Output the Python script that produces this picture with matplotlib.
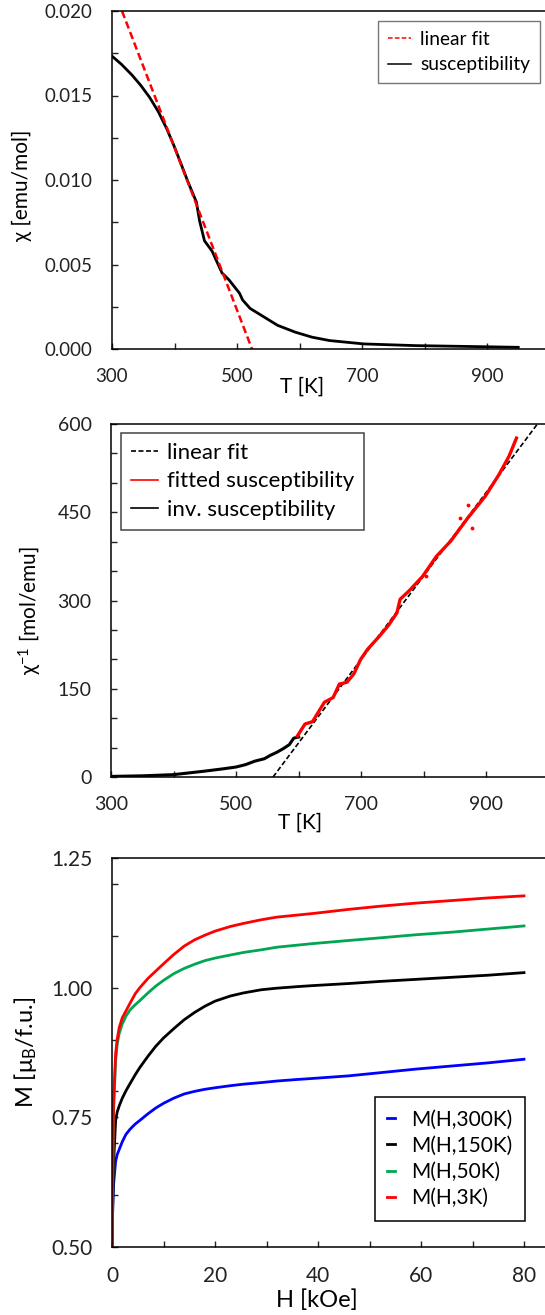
import matplotlib
matplotlib.use("Agg")
import matplotlib.pyplot as plt
from matplotlib.ticker import MultipleLocator, FixedLocator

plt.rcParams['font.family'] = ['Lato', 'DejaVu Sans']
plt.rcParams['mathtext.default'] = 'regular'

# panel 1: susceptibility vs T
T_chi = [300, 315, 332, 346, 360, 374, 388, 400, 410, 422, 435, 440, 448, 460,
         476, 487, 504, 509, 521, 543, 565, 593, 620, 648, 703, 786, 870, 950]
chi = [0.01733, 0.01685, 0.01621, 0.01560, 0.01490, 0.01405, 0.01300, 0.01195,
       0.01100, 0.00985, 0.00870, 0.00760, 0.00640, 0.00580, 0.00450, 0.00410,
       0.00330, 0.00290, 0.00240, 0.00190, 0.00140, 0.00100, 0.00070, 0.00050,
       0.00030, 0.00020, 0.00015, 0.00010]
fit1_T = [316, 524]
fit1_chi = [0.020, 0.0]

# panel 2: inverse susceptibility
inv_T = [300, 350, 400, 450, 480, 500, 515, 530, 545, 555, 565, 575, 585, 592, 600]
inv_chi = [1, 2, 4, 10, 14, 17, 21, 27, 31, 37, 42, 48, 55, 66, 68]
fitted_T = [598, 610, 622, 641, 655, 665, 677, 688, 699, 710, 727, 743, 757, 762,
            776, 798, 820, 843, 870, 898, 920, 936, 948]
fitted_chi = [70, 90, 94, 127, 135, 158, 161, 175, 200, 217, 237, 257, 279, 302,
              316, 341, 375, 401, 440, 477, 514, 545, 576]
outlier_T = [804, 858, 870, 877]
outlier_chi = [341, 440, 463, 424]
fit2_T = [559, 985]
fit2_chi = [0, 605]

# panel 3: M(H)
H = [0, 0.15, 0.3, 0.7, 1.0, 1.4, 2.0, 2.7, 3.5, 4.5, 5.4, 7, 8.5, 10, 12, 14, 16,
     18, 20, 23, 25.6, 29, 32, 36, 39, 46, 52, 59, 66, 73, 80]
M_3K = [0.50, 0.65, 0.78, 0.872, 0.900, 0.923, 0.942, 0.955, 0.970, 0.988, 1.000,
        1.018, 1.032, 1.046, 1.064, 1.080, 1.092, 1.101, 1.109, 1.118, 1.124, 1.131,
        1.136, 1.140, 1.143, 1.151, 1.157, 1.163, 1.168, 1.173, 1.177]
M_50K = [0.50, 0.63, 0.76, 0.859, 0.890, 0.912, 0.930, 0.945, 0.957, 0.967, 0.975,
         0.990, 1.003, 1.014, 1.027, 1.037, 1.045, 1.052, 1.057, 1.063, 1.068, 1.073,
         1.078, 1.082, 1.085, 1.091, 1.096, 1.102, 1.107, 1.113, 1.119]
M_150K = [0.50, 0.58, 0.66, 0.743, 0.760, 0.772, 0.787, 0.801, 0.815, 0.832, 0.846,
          0.868, 0.887, 0.903, 0.921, 0.938, 0.952, 0.964, 0.974, 0.984, 0.990, 0.996,
          0.999, 1.002, 1.004, 1.008, 1.012, 1.016, 1.020, 1.024, 1.029]
M_300K = [0.50, 0.58, 0.62, 0.665, 0.678, 0.688, 0.703, 0.717, 0.727, 0.737, 0.744,
          0.757, 0.768, 0.777, 0.787, 0.795, 0.800, 0.804, 0.807, 0.811, 0.814, 0.817,
          0.820, 0.823, 0.825, 0.830, 0.836, 0.843, 0.849, 0.855, 0.862]

W, Hpx = 545, 1315
fig = plt.figure(figsize=(W / 100, Hpx / 100), dpi=100)


def box(l, t, r, b):
    return [l / W, 1 - b / Hpx, (r - l) / W, (b - t) / Hpx]


def style(ax, fs, xpad, ypad):
    for s in ax.spines.values():
        s.set_linewidth(1.1)
    ax.tick_params(which='both', direction='in', width=1.0, length=4.5,
                   labelsize=fs, colors='#222222')
    ax.tick_params(axis='x', which='both', pad=xpad, top=False)
    ax.tick_params(axis='y', which='both', pad=ypad, right=False)


# ---- panel 1
ax1 = fig.add_axes(box(112, 11, 549.5, 349))
ax1.plot(T_chi, chi, color='black', lw=2.0, label='susceptibility')
ax1.plot(fit1_T, fit1_chi, color='red', lw=1.8, ls=(0, (3, 1.5)), label='linear fit')
ax1.set_xlim(300, 1000)
ax1.set_ylim(0, 0.020)
ax1.xaxis.set_major_locator(FixedLocator([300, 500, 700, 900]))
ax1.xaxis.set_minor_locator(FixedLocator([400, 600, 800]))
ax1.yaxis.set_major_locator(MultipleLocator(0.005))
ax1.yaxis.set_minor_locator(MultipleLocator(0.0025))
ax1.yaxis.set_major_formatter(matplotlib.ticker.FormatStrFormatter('%.3f'))
style(ax1, 13.5, 14, 14)
ax1.set_xlabel('T [K]', fontsize=15)
ax1.xaxis.set_label_coords(0.434, -0.112)
ax1.xaxis.label.set_va('center')
ax1.set_ylabel('χ [emu/mol]', fontsize=15)
ax1.yaxis.set_label_coords(-0.206, 0.485)
ax1.yaxis.label.set_va('center')
h, l = ax1.get_legend_handles_labels()
leg1 = ax1.legend(h[::-1], l[::-1], loc='upper left',
                  bbox_to_anchor=(378 / W, 1 - 21 / Hpx),
                  bbox_transform=fig.transFigure, borderaxespad=0, fancybox=False,
                  edgecolor='#777777', fontsize=13.8, handlelength=1.2,
                  handletextpad=0.5, labelspacing=0.45, borderpad=0.5, framealpha=1)
for lh in leg1.get_lines():
    lh.set_linewidth(1.1)
leg1.get_frame().set_linewidth(1.0)

# ---- panel 2
ax2 = fig.add_axes(box(111, 424, 549, 777))
ax2.plot(fit2_T, fit2_chi, color='black', lw=1.2, ls=(0, (3, 1.5)), label='linear fit')
ax2.plot(fitted_T, fitted_chi, color='red', lw=2.4, label='fitted susceptibility', zorder=3)
ax2.plot(inv_T, inv_chi, color='black', lw=2.2, label='inv. susceptibility')
ax2.scatter(outlier_T, outlier_chi, color='red', s=3, zorder=3)
ax2.set_xlim(300, 1000)
ax2.set_ylim(0, 600)
ax2.xaxis.set_major_locator(FixedLocator([300, 500, 700, 900]))
ax2.xaxis.set_minor_locator(FixedLocator([400, 600, 800]))
ax2.yaxis.set_major_locator(MultipleLocator(150))
ax2.yaxis.set_minor_locator(MultipleLocator(50))
style(ax2, 14, 14, 14)
ax2.set_xlabel('T [K]', fontsize=15)
ax2.xaxis.set_label_coords(0.432, -0.130)
ax2.xaxis.label.set_va('center')
ax2.set_ylabel('χ$^{-1}$ [mol/emu]', fontsize=15)
ax2.yaxis.set_label_coords(-0.185, 0.473)
ax2.yaxis.label.set_va('center')
leg2 = ax2.legend(loc='upper left', bbox_to_anchor=(121 / W, 1 - 433 / Hpx),
                  bbox_transform=fig.transFigure, borderaxespad=0, fancybox=False,
                  edgecolor='#444444', fontsize=16, handlelength=1.2, handletextpad=0.4,
                  labelspacing=0.38, borderpad=0.45, framealpha=1)
for lh in leg2.get_lines():
    lh.set_linewidth(1.2)
leg2.get_frame().set_linewidth(1.1)

# ---- panel 3
ax3 = fig.add_axes(box(112, 858, 575.5, 1247))
ax3.plot(H, M_300K, color='#0000ff', lw=2.0, label='M(H,300K)')
ax3.plot(H, M_150K, color='black', lw=2.0, label='M(H,150K)')
ax3.plot(H, M_50K, color='#00a651', lw=2.0, label='M(H,50K)')
ax3.plot(H, M_3K, color='#ff0000', lw=2.0, label='M(H,3K)')
ax3.set_xlim(0, 90)
ax3.set_ylim(0.5, 1.25)
ax3.xaxis.set_major_locator(FixedLocator([0, 20, 40, 60, 80]))
ax3.xaxis.set_minor_locator(FixedLocator([10, 30, 50, 70, 90]))
ax3.yaxis.set_major_locator(MultipleLocator(0.25))
ax3.yaxis.set_minor_locator(FixedLocator([0.6, 0.7, 0.8, 0.9, 1.1, 1.2]))
ax3.yaxis.set_major_formatter(matplotlib.ticker.FormatStrFormatter('%.2f'))
style(ax3, 15, 14, 14)
ax3.set_xlabel('H [kOe]', fontsize=17)
ax3.xaxis.set_label_coords(0.442, -0.136)
ax3.xaxis.label.set_va('center')
ax3.set_ylabel('M [μ$_B$/f.u.]', fontsize=17)
ax3.yaxis.set_label_coords(-0.186, 0.499)
ax3.yaxis.label.set_va('center')
leg3 = ax3.legend(loc='upper right', bbox_to_anchor=(525 / W, 1 - 1097 / Hpx),
                  bbox_transform=fig.transFigure, borderaxespad=0, fancybox=False,
                  edgecolor='black', fontsize=15, handlelength=0.35, handletextpad=0.8,
                  labelspacing=0.3, borderpad=0.6, framealpha=1)
leg3.get_frame().set_linewidth(1.1)

fig.savefig('out.png', dpi=100)
